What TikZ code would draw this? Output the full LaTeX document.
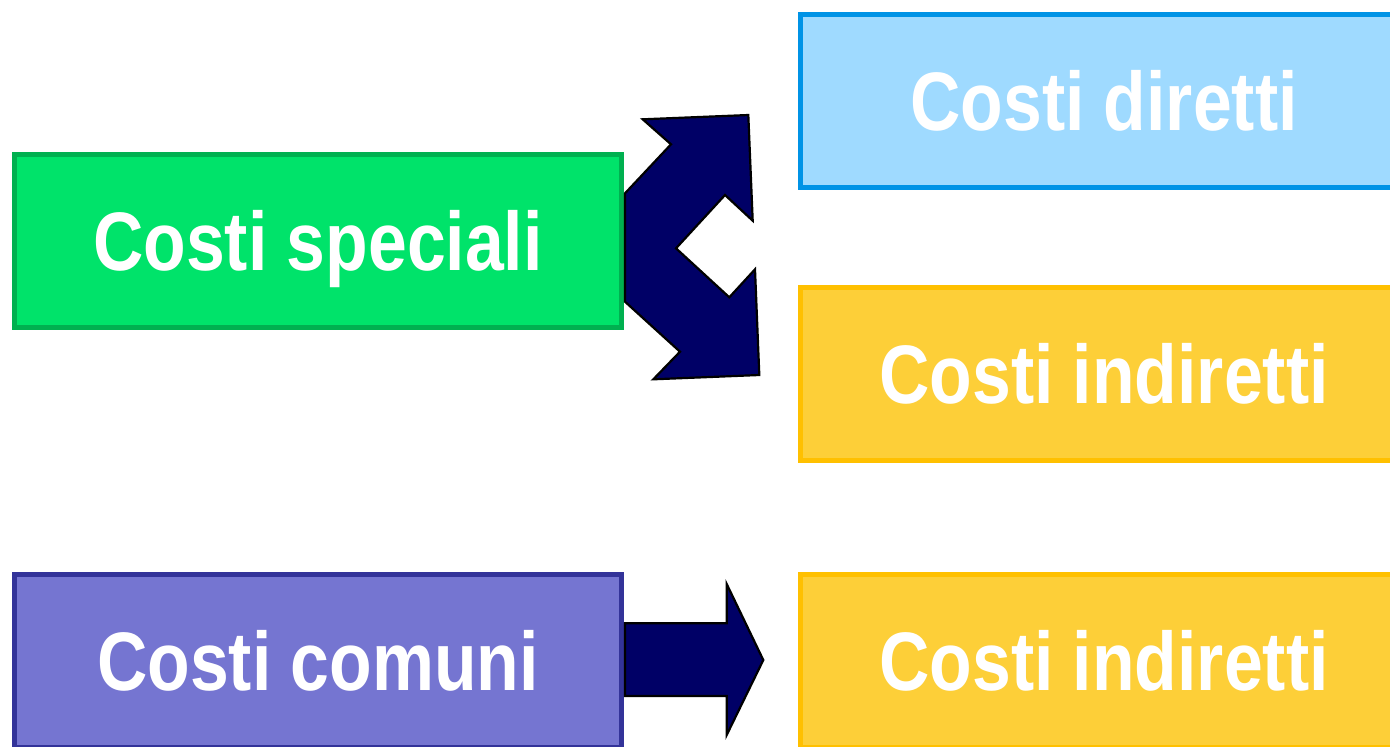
\documentclass[tikz,border=0pt]{standalone}
\usepackage{fontspec}
\newfontfamily\boxfont[FakeStretch=0.84]{Liberation Sans}
\usepackage{tikz}

\begin{document}
\begin{tikzpicture}[x=0.5pt, y=-0.5pt, every node/.style={align=center},
    costbox/.style={draw, line width=2.5pt, minimum width=303.5pt, minimum height=86.5pt,
      inner sep=0pt, text=white, text height=29.7pt, text depth=0pt,
      font=\boxfont\bfseries\fontsize{41.5}{41.5}\selectfont},
    blockarrow/.style={fill=arrowbg, draw=black, line width=1.1pt, line join=miter}]
      \definecolor{specbg}{HTML}{00E36A} \definecolor{specborder}{HTML}{00B050}
      \definecolor{dirbg}{HTML}{9FDAFF} \definecolor{dirborder}{HTML}{0093E6}
      \definecolor{indbg}{HTML}{FDCF38} \definecolor{indborder}{HTML}{FFC000}
      \definecolor{combg}{HTML}{7575D1} \definecolor{comborder}{HTML}{333399}
      \definecolor{arrowbg}{HTML}{000066}
      \useasboundingbox (0, 0) rectangle (1390, 746);
      \clip (0, 0) rectangle (1390, 746);
      % boxes
      \node[costbox, fill=specbg, draw=specborder] (speciali) at (318, 241) {Costi speciali};
      \node[costbox, fill=dirbg, draw=dirborder] (diretti) at (1104, 100.5) {Costi diretti};
      \node[costbox, fill=indbg, draw=indborder] (indiretti) at (1104, 373.5) {Costi indiretti};
      \node[costbox, fill=combg, draw=comborder] (comuni) at (318, 661) {Costi comuni};
      \node[costbox, fill=indbg, draw=indborder] (indiretticom) at (1104, 661) {Costi indiretti};
      % double arrow
      \draw[blockarrow] (642.7, 119.3) -- (748.3, 115) -- (752.7, 220.7) -- (725, 195) -- (676, 248.3)
        -- (729.3, 297.3) -- (755, 269.3) -- (759.3, 375) -- (653.3, 379.3) -- (680, 351.7)
        -- (625, 301.7) -- (625, 193.3) -- (671, 144.3) -- cycle;
      % single arrow
      \draw[blockarrow] (625, 623.3) -- (726.7, 623.3) -- (726.7, 584) -- (763.3, 660)
        -- (726.7, 735) -- (726.7, 696) -- (625, 696) -- cycle;
    \end{tikzpicture}
\end{document}
